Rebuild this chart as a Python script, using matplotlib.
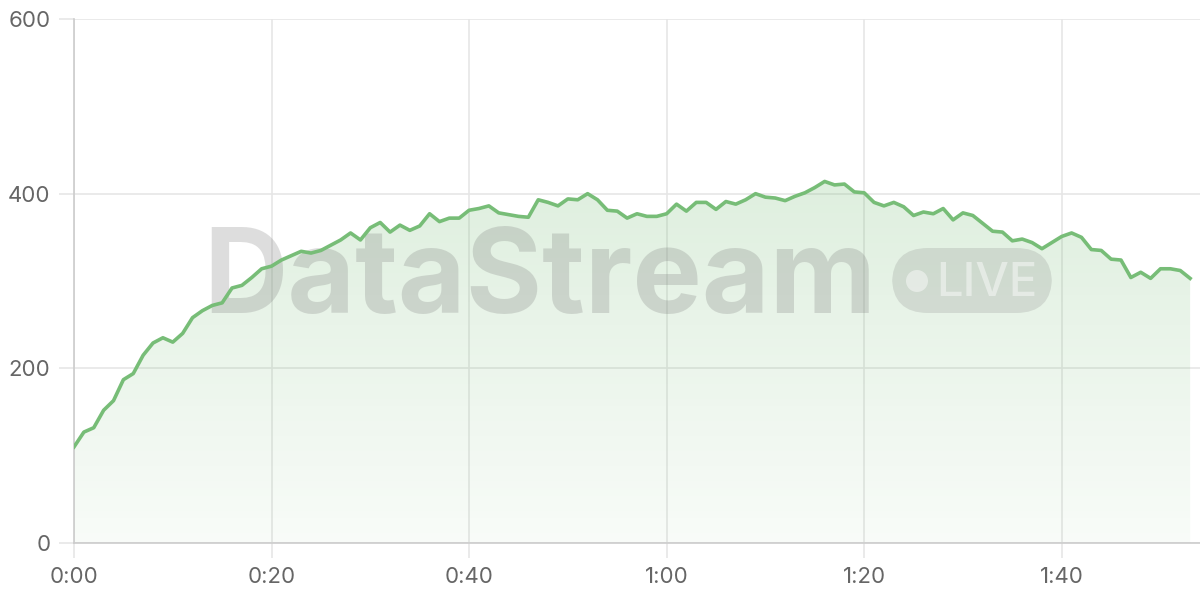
import numpy as np
import matplotlib.pyplot as plt
from matplotlib.patches import FancyBboxPatch, Ellipse
from matplotlib.colors import LinearSegmentedColormap

# values, one per minute
values = [110, 127, 132, 152, 163, 187, 194, 215, 229, 235,
          230, 240, 258, 266, 272, 275, 292, 295, 304, 314,
          317, 324, 329, 334, 332, 335, 341, 347, 355, 347,
          361, 367, 356, 364, 358, 363, 377, 368, 372, 372,
          381, 383, 386, 378, 376, 374, 373, 393, 390, 386,
          394, 393, 400, 393, 381, 380, 372, 377, 374, 374,
          377, 388, 380, 390, 390, 382, 391, 388, 393, 400,
          396, 395, 392, 397, 401, 407, 414, 410, 411, 402,
          401, 390, 386, 390, 385, 375, 379, 377, 383, 370,
          378, 375, 366, 357, 356, 346, 348, 344, 337, 344,
          351, 355, 350, 336, 335, 325, 324, 304, 310, 303,
          314, 314, 312, 303]
minutes = np.arange(len(values))
xticks = [0, 20, 40, 60, 80, 100]
xlabels = ['0:00', '0:20', '0:40', '1:00', '1:20', '1:40']
yticks = [0, 200, 400, 600]

line_color = '#77bd77'
grid_color = '#e6e6e6'

plt.rcParams['font.family'] = ['Inter', 'DejaVu Sans']

fig = plt.figure(figsize=(12, 6), dpi=100)
ax = fig.add_axes([74/1200, 57/600, 1126/1200, 524/600])

ax.set_xlim(0, 114)
ax.set_ylim(0, 600)

# gradient fill under the line
cmap = LinearSegmentedColormap.from_list('g', [(0.47, 0.74, 0.47, 0.05), (0.47, 0.74, 0.47, 0.24)])
grad = np.linspace(0, 1, 256).reshape(-1, 1)
im = ax.imshow(grad, cmap=cmap, aspect='auto', origin='lower',
               extent=[0, minutes[-1], 0, max(values)], zorder=1)
poly = ax.fill_between(minutes, values, 0, color='none', lw=0)
clip = poly.get_paths()[0]
im.set_clip_path(clip, transform=ax.transData)

ax.plot(minutes, values, color=line_color, lw=2.6, zorder=3)

# watermark
ax.text(540/1200, (600-313)/600, 'DataStream', transform=fig.transFigure,
        ha='center', va='baseline', fontsize=84, fontweight='bold',
        color='#7a7a7a', alpha=0.25, zorder=2)
badge = FancyBboxPatch((892/1200, (600-313)/600), 160/1200, 65/600,
                       boxstyle='round,pad=0,rounding_size=0.03',
                       transform=fig.transFigure, facecolor='#7a7a7a',
                       alpha=0.2, edgecolor='none', zorder=2, mutation_aspect=2)
ax.add_artist(badge)
ax.add_artist(Ellipse((917/1200, (600-281)/600), 22/1200, 22/600, transform=fig.transFigure,
                      facecolor='white', alpha=0.45, edgecolor='none', zorder=2))
ax.text(987/1200, (600-296)/600, 'LIVE', transform=fig.transFigure,
        ha='center', va='baseline', fontsize=34, fontweight='medium',
        color='white', alpha=0.45, zorder=2)

ax.set_xticks(xticks)
ax.set_xticklabels(xlabels)
ax.set_yticks(yticks)
ax.grid(True, color=grid_color, lw=1.2, zorder=0)
ax.set_axisbelow(True)
for s in ['top', 'right']:
    ax.spines[s].set_visible(False)
for s in ['left', 'bottom']:
    ax.spines[s].set_color('#cccccc')
    ax.spines[s].set_linewidth(1.2)
ax.tick_params(length=11, width=1.2, color=grid_color, labelsize=16,
               labelcolor='#666666', pad=6)

plt.savefig('out.png', dpi=100)
